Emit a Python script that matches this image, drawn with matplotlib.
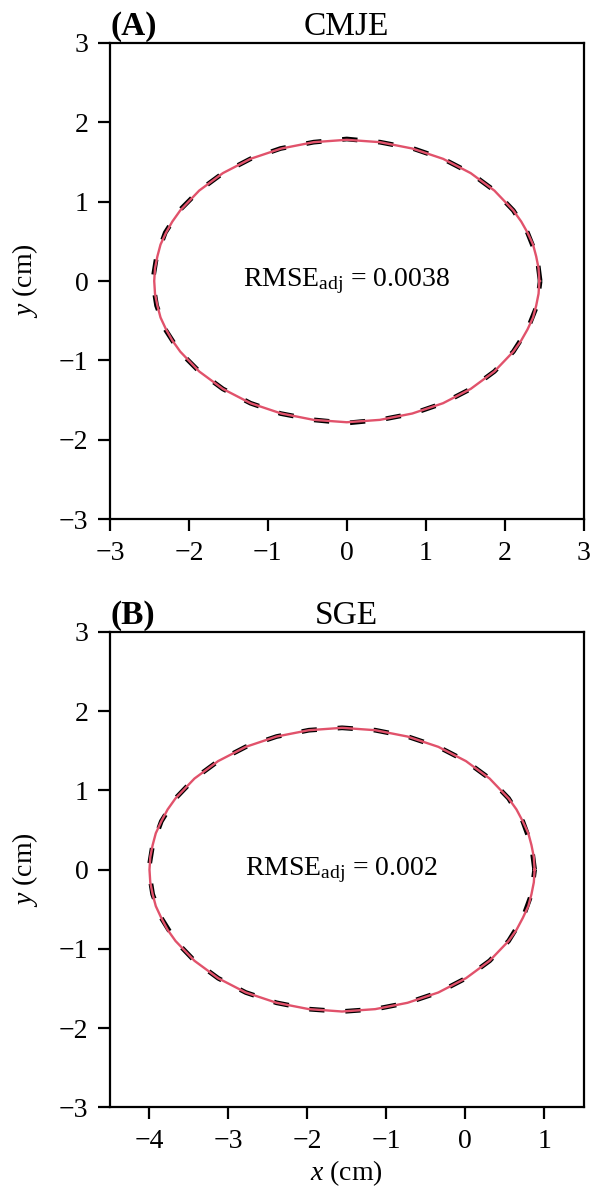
import matplotlib
matplotlib.use('Agg')
import matplotlib.pyplot as plt

plt.rcParams['font.family'] = 'serif'
plt.rcParams['font.serif'] = ['Liberation Serif', 'DejaVu Serif']
plt.rcParams['mathtext.fontset'] = 'custom'
plt.rcParams['mathtext.rm'] = 'Liberation Serif'
plt.rcParams['mathtext.it'] = 'Liberation Serif:italic'
plt.rcParams['font.size'] = 20
plt.rcParams['lines.scale_dashes'] = False

RED = '#E1526B'

# panel A (CMJE) - observed outline, read at ~10 deg steps
xa_obs = [2.45, 2.41, 2.29, 2.11, 1.87, 1.57, 1.22, 0.84, 0.42, 0.00, -0.42, -0.84, -1.22,
          -1.57, -1.87, -2.12, -2.30, -2.41, -2.46, -2.41, -2.30, -2.12, -1.87, -1.57, -1.22,
          -0.84, -0.42, 0.00, 0.42, 0.84, 1.22, 1.57, 1.87, 2.11, 2.29, 2.41, 2.45]
ya_obs = [0.00, 0.31, 0.61, 0.89, 1.14, 1.36, 1.54, 1.67, 1.75, 1.79, 1.75, 1.67, 1.54,
          1.36, 1.14, 0.89, 0.61, 0.31, 0.00, -0.31, -0.61, -0.89, -1.14, -1.36, -1.54,
          -1.67, -1.75, -1.79, -1.75, -1.67, -1.54, -1.36, -1.14, -0.89, -0.61, -0.31, 0.00]

# panel A - fitted curve
xa_fit = [2.44, 2.43, 2.40, 2.36, 2.29, 2.21, 2.11, 1.87, 1.57, 1.22, 0.83, 0.42, 0.00,
          -0.42, -0.83, -1.22, -1.57, -1.87, -2.11, -2.21, -2.29, -2.36, -2.40, -2.43, -2.44,
          -2.43, -2.40, -2.36, -2.29, -2.21, -2.11, -1.87, -1.57, -1.22, -0.83, -0.42, 0.00,
          0.42, 0.83, 1.22, 1.57, 1.87, 2.11, 2.21, 2.29, 2.36, 2.40, 2.43, 2.44]
ya_fit = [0.00, 0.16, 0.31, 0.46, 0.61, 0.75, 0.89, 1.14, 1.36, 1.54, 1.67, 1.75, 1.78,
          1.75, 1.67, 1.54, 1.36, 1.14, 0.89, 0.75, 0.61, 0.46, 0.31, 0.16, 0.00,
          -0.16, -0.31, -0.46, -0.61, -0.75, -0.89, -1.14, -1.36, -1.54, -1.67, -1.75, -1.78,
          -1.75, -1.67, -1.54, -1.36, -1.14, -0.89, -0.75, -0.61, -0.46, -0.31, -0.16, 0.00]

# panel B (SGE) - observed outline
xb_obs = [0.88, 0.84, 0.73, 0.55, 0.31, 0.01, -0.34, -0.73, -1.14, -1.56, -1.98, -2.39, -2.78,
          -3.13, -3.43, -3.67, -3.85, -3.96, -4.01, -3.96, -3.85, -3.67, -3.43, -3.13, -2.78,
          -2.39, -1.98, -1.56, -1.14, -0.73, -0.34, 0.01, 0.31, 0.55, 0.73, 0.84, 0.88]
yb_obs = [0.00, 0.31, 0.61, 0.90, 1.15, 1.37, 1.55, 1.68, 1.76, 1.79, 1.76, 1.68, 1.55,
          1.37, 1.15, 0.90, 0.61, 0.31, 0.00, -0.31, -0.61, -0.90, -1.15, -1.37, -1.55,
          -1.68, -1.76, -1.79, -1.76, -1.68, -1.55, -1.37, -1.15, -0.90, -0.61, -0.31, 0.00]

# panel B - fitted curve
xb_fit = [0.88, 0.87, 0.84, 0.80, 0.73, 0.65, 0.55, 0.31, 0.01, -0.34, -0.73, -1.14, -1.56,
          -1.98, -2.39, -2.78, -3.13, -3.43, -3.67, -3.77, -3.85, -3.92, -3.96, -3.99, -4.00,
          -3.99, -3.96, -3.92, -3.85, -3.77, -3.67, -3.43, -3.13, -2.78, -2.39, -1.98, -1.56,
          -1.14, -0.73, -0.34, 0.01, 0.31, 0.55, 0.65, 0.73, 0.80, 0.84, 0.87, 0.88]
yb_fit = [0.00, 0.16, 0.31, 0.46, 0.61, 0.76, 0.90, 1.15, 1.37, 1.55, 1.68, 1.76, 1.79,
          1.76, 1.68, 1.55, 1.37, 1.15, 0.90, 0.76, 0.61, 0.46, 0.31, 0.16, 0.00,
          -0.16, -0.31, -0.46, -0.61, -0.76, -0.90, -1.15, -1.37, -1.55, -1.68, -1.76, -1.79,
          -1.76, -1.68, -1.55, -1.37, -1.15, -0.90, -0.76, -0.61, -0.46, -0.31, -0.16, 0.00]

panel_tags = ['(A)', '(B)']
panel_titles = ['CMJE', 'SGE']
rmse_labels = [r'RMSE$_{\mathrm{adj}}$ = 0.0038', r'RMSE$_{\mathrm{adj}}$ = 0.002']
text_pos = [(0.0, 0.0), (-1.57, 0.0)]
x_limits = [(-3, 3), (-4.5, 1.5)]
x_ticks = [[-3, -2, -1, 0, 1, 2, 3], [-4, -3, -2, -1, 0, 1]]
y_ticks = [-3, -2, -1, 0, 1, 2, 3]


def draw_panel(ax, i, x_obs, y_obs, x_fit, y_fit):
    ax.plot(x_obs, y_obs, color='black', lw=3.4, dashes=(11, 15), zorder=2)
    ax.plot(x_fit, y_fit, color=RED, lw=1.7, zorder=3)
    ax.text(text_pos[i][0], text_pos[i][1], rmse_labels[i], ha='center', va='center')
    ax.set_xlim(x_limits[i])
    ax.set_ylim(-3, 3)
    ax.set_xticks(x_ticks[i])
    ax.set_yticks(y_ticks)
    ax.set_title(panel_titles[i], pad=6)
    ax.set_title(panel_tags[i], loc='left', fontweight='bold', pad=6)
    ax.set_ylabel(r'$y$ (cm)', labelpad=14)
    for sp in ax.spines.values():
        sp.set_linewidth(1.6)
    ax.tick_params(direction='out', length=8.5, width=1.6, pad=7)


fig = plt.figure(figsize=(5.96, 11.91), dpi=100)
ax_a = fig.add_axes([0.1846, 0.5642, 0.7945, 0.3997])
ax_b = fig.add_axes([0.1846, 0.0702, 0.7945, 0.3992])

draw_panel(ax_a, 0, xa_obs, ya_obs, xa_fit, ya_fit)
draw_panel(ax_b, 1, xb_obs, yb_obs, xb_fit, yb_fit)
ax_b.set_xlabel(r'$x$ (cm)', labelpad=3)

fig.savefig('out.png', dpi=100)
